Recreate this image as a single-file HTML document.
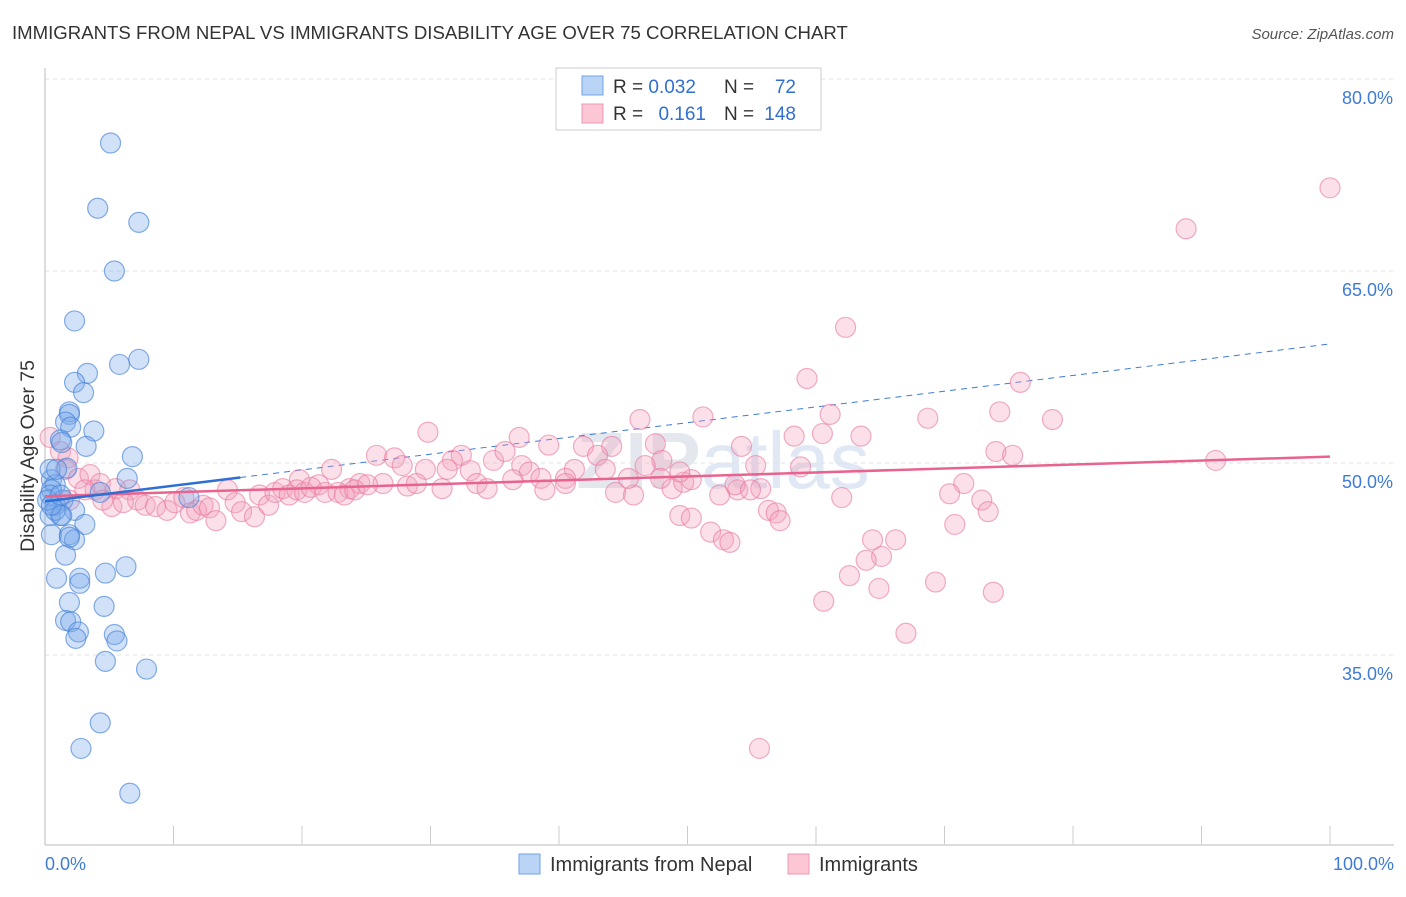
<!DOCTYPE html>
<html><head><meta charset="utf-8"><style>
body{margin:0;background:#fff;font-family:"Liberation Sans",sans-serif;}
svg text{font-family:"Liberation Sans",sans-serif;}
</style></head><body>
<svg id="chart" width="1406" height="892" viewBox="0 0 1406 892">
<text x="12" y="39" font-size="18.6" fill="#333">IMMIGRANTS FROM NEPAL VS IMMIGRANTS DISABILITY AGE OVER 75 CORRELATION CHART</text>
<text x="1394" y="39" font-size="15" fill="#555" font-style="italic" text-anchor="end">Source: ZipAtlas.com</text>
<text x="723" y="488" font-size="80" fill="#e4e8ee" text-anchor="middle" font-weight="bold">ZIP<tspan font-weight="normal" fill="#dfe8f4">atlas</tspan></text>
<g id="grid"></g>
<g id="axes"></g>
<g id="trend"></g>
<g id="pts"></g>
<text transform="translate(34,456) rotate(-90)" font-size="19.5" fill="#333" text-anchor="middle">Disability Age Over 75</text>
<g>
<rect x="556" y="68" width="265" height="62" fill="#fff" stroke="#ccc"/>
<rect x="582" y="76" width="21" height="19" fill="#b9d4f5" stroke="#6fa3e6"/>
<rect x="582" y="104" width="21" height="19" fill="#fcc6d5" stroke="#ec98b3"/>
<text x="613" y="93" font-size="19" fill="#333">R = <tspan fill="#2f6fd3">0.032</tspan></text>
<text x="724" y="93" font-size="19" fill="#333">N = </text><text x="796" y="93" font-size="19" fill="#2f6fd3" text-anchor="end">72</text>
<text x="613" y="120" font-size="19" fill="#333">R = </text><text x="706" y="120" font-size="19" fill="#2f6fd3" text-anchor="end">0.161</text>
<text x="724" y="120" font-size="19" fill="#333">N = </text><text x="796" y="120" font-size="19" fill="#2f6fd3" text-anchor="end">148</text>
</g>
<g>
<rect x="519" y="854" width="21" height="20" fill="#b9d4f5" stroke="#6fa3e6"/>
<text x="550" y="871" font-size="20" fill="#333">Immigrants from Nepal</text>
<rect x="788" y="854" width="21" height="20" fill="#fcc6d5" stroke="#ec98b3"/>
<text x="819" y="871" font-size="20" fill="#333">Immigrants</text>
</g>
</svg>
<script>
const yTicks=[35,50,65,80];
const yTickLabels=["35.0%","50.0%","65.0%","80.0%"];
const xTickLabels=["0.0%","100.0%"];
const blueX=[5.1,4.1,7.3,5.4,2.3,7.3,5.8,3.3,2.3,3.0,1.9,1.9,1.6,2.0,3.8,1.2,1.3,3.2,6.8,1.7,6.4,0.5,0.8,0.5,0.4,1.4,0.8,2.3,1.2,0.4,3.1,0.5,1.9,2.3,1.6,0.9,2.7,4.7,6.3,2.7,1.9,4.6,1.6,2.0,2.6,2.4,5.4,5.6,4.7,7.9,4.3,2.8,6.6,11.2,4.3,0.4,0.8,1.3,1.9,0.2,0.5,1.2,0.9];
const blueY=[75.0,69.9,68.8,65.0,61.1,58.1,57.7,57.0,56.3,55.5,54.0,53.8,53.2,52.8,52.5,51.8,51.6,51.3,50.5,49.6,48.8,48.7,48.3,47.9,47.5,47.1,46.7,46.3,45.9,45.9,45.2,44.4,44.4,44.0,42.8,41.0,41.0,41.4,41.9,40.6,39.1,38.8,37.7,37.6,36.8,36.3,36.6,36.1,34.5,33.9,29.7,27.7,24.2,47.3,47.7,49.5,46.3,45.9,44.2,47.1,46.7,47.5,49.5];
const pinkX=[100,88.8,62.3,59.3,75.9,74.3,61.1,68.7,78.4,46.3,51.2,29.8,36.9,39.2,58.3,60.5,63.5,54.2,47.5,44.1,41.9,43.0,48.0,74.0,75.3,91.1,25.8,27.2,32.4,31.7,34.9,35.8,37.1,37.7,33.1,31.3,27.8,29.6,43.6,46.7,41.2,40.5,38.6,55.3,58.8,22.3,19.8,21.3,23.7,24.5,26.3,28.2,28.9,30.9,33.6,34.4,36.4,38.9,40.5,44.4,45.8,48.8,49.7,50.3,53.9,55.7,45.4,47.9,49.4,52.5,53.7,54.9,71.5,70.4,72.9,73.4,70.8,62.0,56.3,56.9,57.2,49.4,50.3,51.8,52.8,53.3,64.4,66.2,65.1,63.9,62.6,69.3,73.8,64.9,60.6,67.0,55.6,0.4,1.2,1.8,1.6,2.6,3.5,3.9,4.3,5.2,5.5,6.6,7.2,7.8,8.6,9.5,10.1,10.8,11.3,11.8,12.3,12.8,13.3,14.2,14.8,15.3,16.3,16.7,17.4,17.9,18.5,19.0,19.6,20.2,20.7,21.8,22.8,23.3,24.1,25.1,1.9,3.1,4.5,6.1];
const pinkY=[71.5,68.3,60.6,56.6,56.3,54.0,53.8,53.5,53.4,53.4,53.6,52.4,52.0,51.4,52.1,52.3,52.1,51.3,51.5,51.3,51.3,50.6,50.2,50.9,50.6,50.2,50.6,50.4,50.6,50.2,50.2,50.9,49.8,49.3,49.4,49.5,49.8,49.5,49.5,49.8,49.5,48.8,48.8,49.8,49.7,49.5,48.7,48.3,48.0,48.4,48.4,48.2,48.4,48.0,48.4,48.0,48.7,47.9,48.4,47.7,47.5,48.0,48.5,48.7,47.9,48.0,48.8,48.8,49.3,47.5,48.3,47.9,48.4,47.6,47.1,46.2,45.2,47.3,46.3,46.1,45.5,45.9,45.7,44.6,44.0,43.8,44.0,44.0,42.7,42.4,41.2,40.7,39.9,40.2,39.2,36.7,27.7,52.0,50.9,50.4,49.5,48.8,49.1,47.9,48.4,46.6,48.0,47.9,47.1,46.7,46.6,46.3,46.9,47.3,46.1,46.3,46.7,46.5,45.5,47.9,46.9,46.2,45.8,47.5,46.7,47.7,48.0,47.5,47.9,47.7,48.1,47.7,47.7,47.5,47.9,48.3,47.1,47.9,47.1,46.9];
const blueTrend=[47.0,59.3];
const pinkTrend=[47.4,50.5];
const blueSolidEnd=15.2;

const NS="http://www.w3.org/2000/svg";
const X0=45,X1=1330,YBASE=463,PPU=12.8,BOTTOM=845;
const sx=v=>X0+(X1-X0)*v/100;
const sy=v=>YBASE-(v-50)*PPU;
function mk(t,a,p){const e=document.createElementNS(NS,t);for(const k in a)e.setAttribute(k,a[k]);p.appendChild(e);return e;}
const grid=document.getElementById('grid'),axes=document.getElementById('axes'),trend=document.getElementById('trend'),pts=document.getElementById('pts');
yTicks.forEach((v,i)=>{
  const l=mk('line',{x1:X0,x2:1394,y1:sy(v),y2:sy(v),stroke:'#e2e2e2','stroke-dasharray':'4,4'},grid);
  
  
  const t=mk('text',{x:1393,y:sy(v)+25,'font-size':18,fill:'#3f7bd6','text-anchor':'end'},axes);
  t.textContent=yTickLabels[i];
  
  
});
const ya=mk('line',{x1:X0,x2:X0,y1:68,y2:BOTTOM,stroke:'#bbb'},axes);


const xa=mk('line',{x1:X0,x2:1394,y1:BOTTOM,y2:BOTTOM,stroke:'#bbb'},axes);


for(let i=1;i<=10;i++){
  const tk=mk('line',{x1:sx(i*10),x2:sx(i*10),y1:826,y2:BOTTOM,stroke:'#ccc'},axes);
  
  
}
[[0,'start',X0],[100,'end',1394]].forEach((d,i)=>{
  const t=mk('text',{x:d[2],y:870,'font-size':18,fill:'#3f7bd6','text-anchor':d[1]},axes);
  t.textContent=xTickLabels[i];
  
  
});
pinkX.forEach((x,i)=>{
  const c=mk('circle',{cx:sx(x),cy:sy(pinkY[i]),r:10,fill:'rgba(244,160,188,0.32)',stroke:'rgba(232,120,158,0.6)','stroke-width':1.2},pts);
  
  
});
blueX.forEach((x,i)=>{
  const c=mk('circle',{cx:sx(x),cy:sy(blueY[i]),r:10,fill:'rgba(120,170,235,0.35)',stroke:'rgba(70,130,215,0.65)','stroke-width':1.2},pts);
  
  
});
const bAt=v=>blueTrend[0]+(blueTrend[1]-blueTrend[0])*v/100;
const bd=mk('line',{x1:sx(blueSolidEnd),y1:sy(bAt(blueSolidEnd)),x2:sx(100),y2:sy(blueTrend[1]),stroke:'#3f7bd6','stroke-width':1,'stroke-dasharray':'6,5'},trend);


const pl=mk('line',{x1:sx(0),y1:sy(pinkTrend[0]),x2:sx(100),y2:sy(pinkTrend[1]),stroke:'#e8648f','stroke-width':2.5},pts);


const bl=mk('line',{x1:sx(0),y1:sy(blueTrend[0]),x2:sx(blueSolidEnd),y2:sy(bAt(blueSolidEnd)),stroke:'#2d6fd2','stroke-width':2.5},pts);


</script>
</body></html>
